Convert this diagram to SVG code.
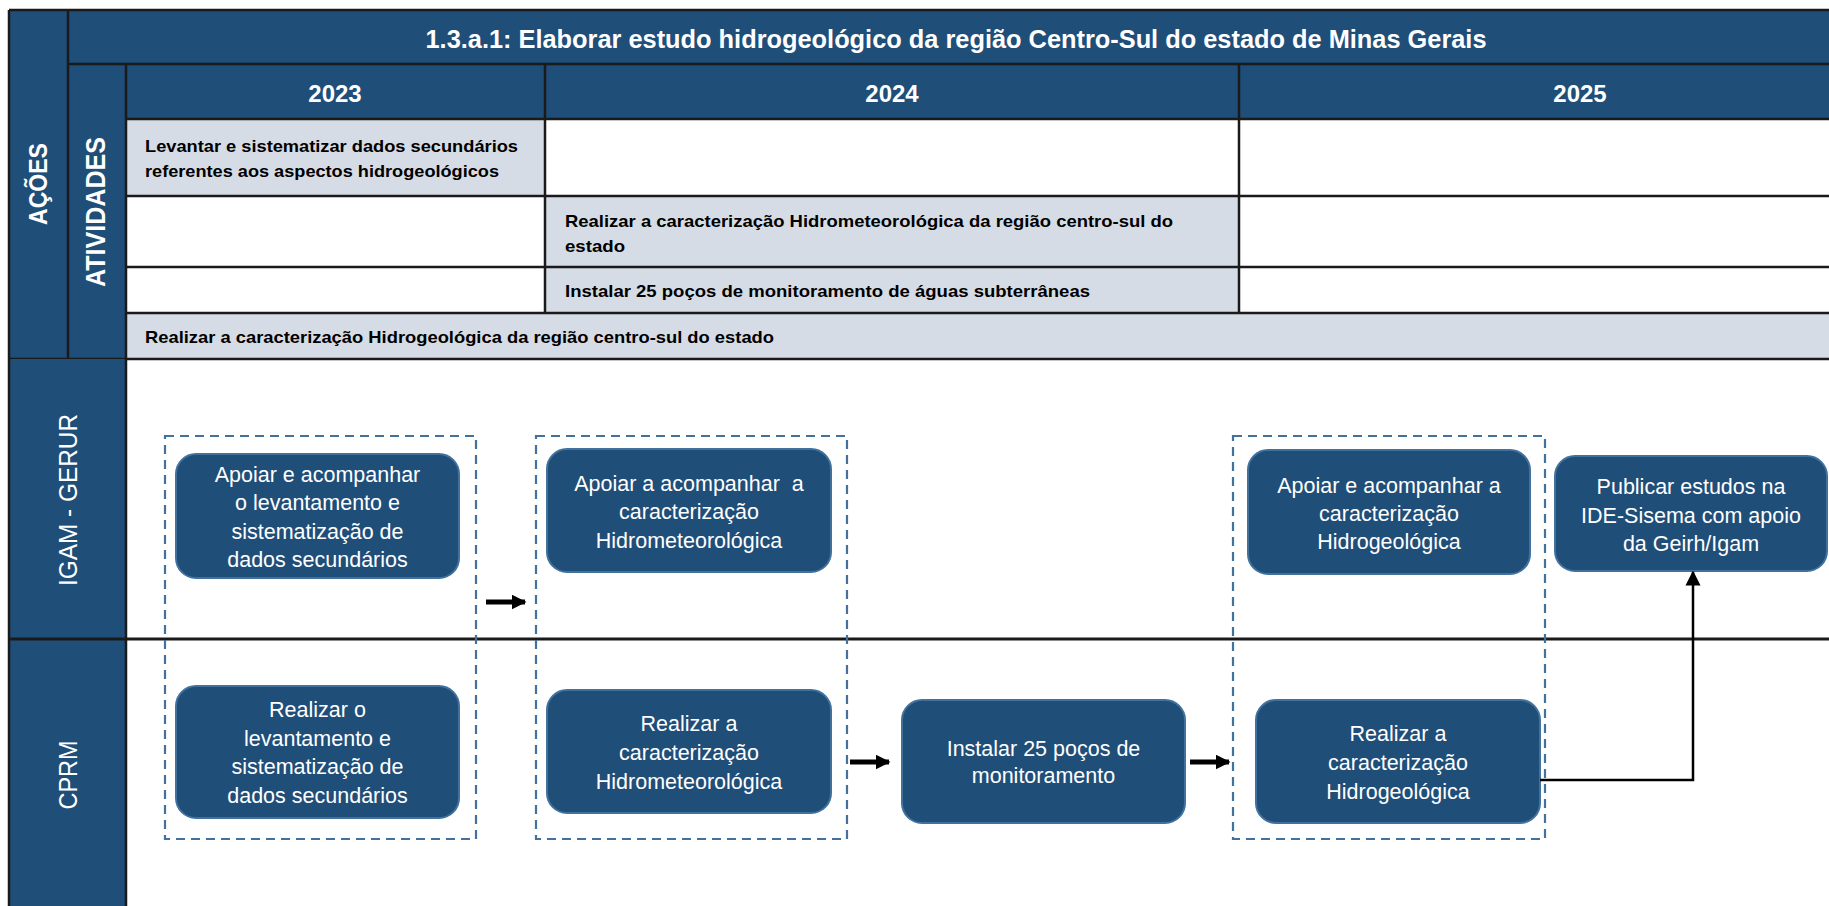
<svg xmlns="http://www.w3.org/2000/svg" width="1829" height="906" viewBox="0 0 1829 906">
<style>
.dk{fill:#1F4E79}
.lt{fill:#D6DCE5}
.wh{fill:#FFFFFF}
.grid{stroke:#1a1a1a;stroke-width:2.5;fill:none}
.hd{font-family:"Liberation Sans",Arial,sans-serif;font-weight:bold;fill:#FFFFFF}
.rt{font-family:"Liberation Sans",Arial,sans-serif;font-weight:bold;font-size:17px;fill:#000000}
.ln{font-family:"Liberation Sans",Arial,sans-serif;font-size:26px;fill:#FFFFFF}
.node rect{fill:#1F4E79;stroke:#41719C;stroke-width:2}
.node text{font-family:"Liberation Sans",Arial,sans-serif;font-size:21.5px;fill:#FFFFFF;text-anchor:middle}
.dash{fill:none;stroke:#41719C;stroke-width:2.2;stroke-dasharray:9 6}
.arr{stroke:#000;stroke-width:5;fill:none}
.thin{stroke:#000;stroke-width:2.5;fill:none}
</style>
<defs>
<marker id="ah" viewBox="0 0 10 10" refX="9" refY="5" markerWidth="3" markerHeight="3" orient="auto" markerUnits="strokeWidth">
<path d="M0,0 L10,5 L0,10 z" fill="#000"/>
</marker>
<marker id="ah2" viewBox="0 0 10 10" refX="9" refY="5" markerWidth="6" markerHeight="6.4" orient="auto" markerUnits="strokeWidth">
<path d="M0,0 L10,5 L0,10 z" fill="#000"/>
</marker>
</defs>
<rect x="0" y="0" width="1829" height="906" fill="#FFFFFF"/>

<g id="table">
<rect class="dk" x="9" y="10" width="1830" height="349"/>
<rect class="lt" x="126" y="119" width="419" height="77"/>
<rect class="wh" x="545" y="119" width="1290" height="77"/>
<rect class="wh" x="126" y="196" width="419" height="117"/>
<rect class="lt" x="545" y="196" width="694" height="117"/>
<rect class="wh" x="1239" y="196" width="600" height="117"/>
<rect class="lt" x="126" y="313" width="1710" height="46"/>
<path class="grid" d="M9,10 H1835 M68,64 H1835 M126,119 H1835 M126,196 H1835 M126,267 H1835 M126,313 H1835 M9,359 H1835 M9,10 V359 M68,10 V359 M126,64 V359 M545,64 V313 M1239,64 V313"/>
<text class="hd" x="956" y="48" font-size="25" text-anchor="middle" textLength="1061" lengthAdjust="spacingAndGlyphs">1.3.a.1: Elaborar estudo hidrogeológico da região Centro-Sul do estado de Minas Gerais</text>
<text class="hd" x="335" y="102" font-size="24" text-anchor="middle">2023</text>
<text class="hd" x="892" y="102" font-size="24" text-anchor="middle">2024</text>
<text class="hd" x="1580" y="102" font-size="24" text-anchor="middle">2025</text>
<text class="hd" transform="translate(47,184) rotate(-90)" font-size="26" text-anchor="middle" textLength="82" lengthAdjust="spacingAndGlyphs">AÇÕES</text>
<text class="hd" transform="translate(105,212) rotate(-90)" font-size="28" text-anchor="middle" textLength="150" lengthAdjust="spacingAndGlyphs">ATIVIDADES</text>
<text class="rt" x="145" y="152" textLength="373" lengthAdjust="spacingAndGlyphs">Levantar e sistematizar dados secundários</text>
<text class="rt" x="145" y="177" textLength="354" lengthAdjust="spacingAndGlyphs">referentes aos aspectos hidrogeológicos</text>
<text class="rt" x="565" y="227" textLength="608" lengthAdjust="spacingAndGlyphs">Realizar a caracterização Hidrometeorológica da região centro-sul do</text>
<text class="rt" x="565" y="252" textLength="60" lengthAdjust="spacingAndGlyphs">estado</text>
<text class="rt" x="565" y="297" textLength="525" lengthAdjust="spacingAndGlyphs">Instalar 25 poços de monitoramento de águas subterrâneas</text>
<text class="rt" x="145" y="343" textLength="629" lengthAdjust="spacingAndGlyphs">Realizar a caracterização Hidrogeológica da região centro-sul do estado</text>
</g>

<g id="lanes">
<rect class="dk" x="9" y="359" width="117" height="560"/>
<path class="grid" d="M9,359 V906 M126,359 V906"/>
<path d="M9,639 H1835" stroke="#1a1a1a" stroke-width="3" fill="none"/>
<text class="ln" transform="translate(77,500) rotate(-90)" text-anchor="middle" textLength="172" lengthAdjust="spacingAndGlyphs">IGAM - GERUR</text>
<text class="ln" transform="translate(77,775) rotate(-90)" text-anchor="middle" textLength="69" lengthAdjust="spacingAndGlyphs">CPRM</text>
</g>

<g id="groups">
<rect class="dash" x="165" y="436" width="311" height="403"/>
<rect class="dash" x="536" y="436" width="311" height="403"/>
<rect class="dash" x="1233" y="436" width="312" height="403"/>
</g>

<g id="n-a1" class="node">
<rect x="176" y="454" width="283" height="124" rx="20"/>
<text x="317.5" y="482">Apoiar e acompanhar</text>
<text x="317.5" y="510">o levantamento e</text>
<text x="317.5" y="539">sistematização de</text>
<text x="317.5" y="567">dados secundários</text>
</g>
<g id="n-a2" class="node">
<rect x="547" y="449" width="284" height="123" rx="20"/>
<text x="689" y="491" xml:space="preserve">Apoiar a acompanhar  a</text>
<text x="689" y="519">caracterização</text>
<text x="689" y="548">Hidrometeorológica</text>
</g>
<g id="n-h1" class="node">
<rect x="1248" y="450" width="282" height="124" rx="20"/>
<text x="1389" y="493">Apoiar e acompanhar a</text>
<text x="1389" y="521">caracterização</text>
<text x="1389" y="549">Hidrogeológica</text>
</g>
<g id="n-pub" class="node">
<rect x="1555" y="456" width="272" height="115" rx="20"/>
<text x="1691" y="494">Publicar estudos na</text>
<text x="1691" y="523">IDE-Sisema com apoio</text>
<text x="1691" y="551">da Geirh/Igam</text>
</g>
<g id="n-c1" class="node">
<rect x="176" y="686" width="283" height="132" rx="20"/>
<text x="317.5" y="717">Realizar o</text>
<text x="317.5" y="746">levantamento e</text>
<text x="317.5" y="774">sistematização de</text>
<text x="317.5" y="803">dados secundários</text>
</g>
<g id="n-c2" class="node">
<rect x="547" y="690" width="284" height="123" rx="20"/>
<text x="689" y="731">Realizar a</text>
<text x="689" y="760">caracterização</text>
<text x="689" y="789">Hidrometeorológica</text>
</g>
<g id="n-inst" class="node">
<rect x="902" y="700" width="283" height="123" rx="20"/>
<text x="1043.5" y="756">Instalar 25 poços de</text>
<text x="1043.5" y="783">monitoramento</text>
</g>
<g id="n-h2" class="node">
<rect x="1256" y="700" width="284" height="123" rx="20"/>
<text x="1398" y="741">Realizar a</text>
<text x="1398" y="770">caracterização</text>
<text x="1398" y="799">Hidrogeológica</text>
</g>

<g id="connectors">
<path class="arr" d="M486,602 H525" marker-end="url(#ah)"/>
<path class="arr" d="M850,762 H889" marker-end="url(#ah)"/>
<path class="arr" d="M1190,762 H1229" marker-end="url(#ah)"/>
<path class="thin" d="M1540,780 H1693 V572" marker-end="url(#ah2)"/>
</g>
</svg>
